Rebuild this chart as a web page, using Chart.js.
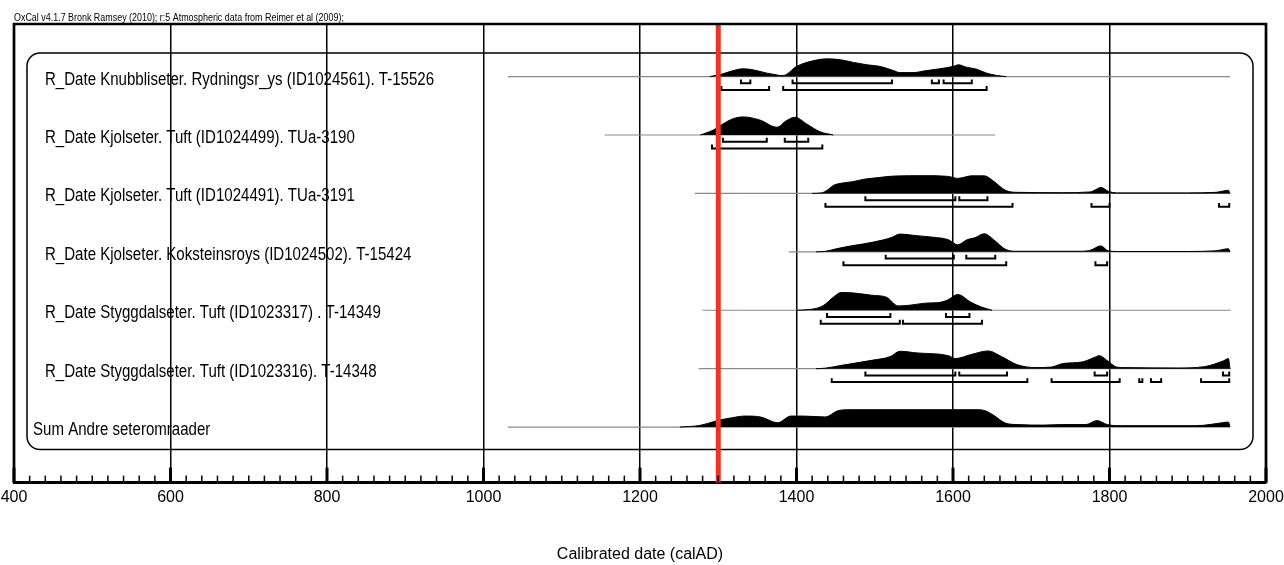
<!DOCTYPE html>
<html>
<head>
<meta charset="utf-8">
<script src="https://cdn.jsdelivr.net/npm/chart.js@4.4.1/dist/chart.umd.min.js"></script>
<style>
  html, body { margin: 0; padding: 0; background: #fff; }
  canvas { display: block; }
</style>
</head>
<body>
<canvas id="oxcal" width="1284" height="565"></canvas>
<script>
// --- texts ---
const headerText = "OxCal v4.1.7 Bronk Ramsey (2010); r:5 Atmospheric data from Reimer et al (2009);";
const axisTitle = "Calibrated date (calAD)";
const xTicks = [400, 600, 800, 1000, 1200, 1400, 1600, 1800, 2000];
const rowLabels = [
  "R_Date Knubbliseter. Rydningsr_ys (ID1024561). T-15526",
  "R_Date Kjolseter. Tuft (ID1024499). TUa-3190",
  "R_Date Kjolseter. Tuft (ID1024491). TUa-3191",
  "R_Date Kjolseter. Koksteinsroys (ID1024502). T-15424",
  "R_Date Styggdalseter. Tuft (ID1023317) . T-14349",
  "R_Date Styggdalseter. Tuft (ID1023316). T-14348",
  "Sum Andre seteromraader"
];
const markerYear = 1300;

// calibration range of each row (thin baseline)
const lineFrom = [1031, 1155, 1270, 1390, 1280, 1275, 1031];
const lineTo   = [1954, 1654, 1954, 1954, 1955, 1955, 1954];

// --- probability curves (relative, peak ~1) ---
const knubbYears = [1289, 1306, 1319, 1332, 1345, 1362, 1375, 1379, 1383, 1400, 1421, 1439, 1456, 1473, 1490, 1507, 1524, 1532, 1549, 1566, 1583, 1600, 1607, 1617, 1630, 1643, 1656, 1668];
const knubbProb  = [0, 0.15, 0.33, 0.43, 0.37, 0.19, 0.09, 0.06, 0.06, 0.56, 0.87, 0.98, 0.93, 0.78, 0.65, 0.56, 0.33, 0.22, 0.22, 0.33, 0.43, 0.56, 0.65, 0.52, 0.41, 0.19, 0.06, 0];

const tuftAYears = [1277, 1294, 1306, 1319, 1332, 1353, 1375, 1387, 1398, 1413, 1430, 1447];
const tuftAProb  = [0, 0.28, 0.61, 0.9, 1.0, 0.83, 0.43, 0.79, 0.98, 0.61, 0.18, 0];

const tuftBYears = [1420, 1432, 1440, 1447, 1457, 1472, 1486, 1506, 1525, 1564, 1594, 1606, 1615, 1623, 1640, 1652, 1667, 1682, 1740, 1775, 1782, 1789, 1799, 1809, 1900, 1936, 1952, 1954];
const tuftBProb  = [0, 0.03, 0.2, 0.44, 0.56, 0.65, 0.78, 0.88, 0.96, 0.98, 0.94, 0.83, 0.9, 0.97, 0.97, 0.67, 0.17, 0.06, 0.04, 0.08, 0.2, 0.33, 0.11, 0.03, 0.03, 0.06, 0.17, 0];

const koksYears = [1425, 1437, 1452, 1470, 1486, 1510, 1522, 1532, 1554, 1574, 1594, 1606, 1618, 1628, 1640, 1652, 1667, 1682, 1760, 1775, 1789, 1798, 1810, 1900, 1936, 1952, 1954];
const koksProb  = [0, 0.03, 0.18, 0.33, 0.44, 0.65, 0.8, 0.98, 0.89, 0.81, 0.67, 0.39, 0.67, 0.78, 1.0, 0.67, 0.14, 0.03, 0.03, 0.08, 0.33, 0.06, 0.02, 0.02, 0.06, 0.17, 0];

const styggAYears = [1400, 1413, 1425, 1435, 1447, 1457, 1471, 1496, 1515, 1530, 1545, 1564, 1584, 1593, 1606, 1623, 1637, 1650];
const styggAProb  = [0, 0.03, 0.1, 0.28, 0.72, 0.98, 0.96, 0.83, 0.72, 0.24, 0.28, 0.39, 0.44, 0.56, 0.87, 0.44, 0.17, 0];

const styggBYears = [1425, 1437, 1457, 1496, 1520, 1532, 1554, 1594, 1603, 1623, 1645, 1662, 1682, 1706, 1726, 1740, 1765, 1780, 1787, 1797, 1809, 1818, 1887, 1921, 1946, 1952, 1954];
const styggBProb  = [0, 0.03, 0.18, 0.46, 0.67, 0.96, 0.87, 0.72, 0.56, 0.78, 0.98, 0.67, 0.22, 0.06, 0.09, 0.28, 0.37, 0.61, 0.72, 0.45, 0.09, 0.06, 0.04, 0.11, 0.44, 0.56, 0];

const sumYears = [1251, 1276, 1300, 1318, 1334, 1354, 1376, 1393, 1408, 1437, 1452, 1466, 1545, 1633, 1642, 1652, 1667, 1682, 1716, 1740, 1770, 1784, 1797, 1814, 1911, 1946, 1952, 1954];
const sumProb  = [0, 0.09, 0.37, 0.52, 0.61, 0.56, 0.24, 0.61, 0.61, 0.56, 0.89, 0.96, 0.96, 0.96, 0.89, 0.65, 0.22, 0.14, 0.11, 0.14, 0.14, 0.36, 0.14, 0.08, 0.08, 0.25, 0.28, 0];

// --- highest posterior density ranges ---
const knubbR68 = [[1329, 1341], [1395, 1522], [1573, 1582], [1588, 1624]];
const knubbR95 = [[1304, 1365], [1383, 1643]];
const tuftAR68 = [[1306, 1362], [1385, 1415]];
const tuftAR95 = [[1292, 1433]];
const tuftBR68 = [[1488, 1603], [1608, 1644]];
const tuftBR95 = [[1437, 1676], [1777, 1800], [1940, 1953]];
const koksR68 = [[1514, 1601], [1617, 1654]];
const koksR95 = [[1460, 1668], [1782, 1797]];
const styggAR68 = [[1439, 1520], [1591, 1621]];
const styggAR95 = [[1431, 1532], [1536, 1637]];
const styggBR68 = [[1488, 1603], [1608, 1669], [1781, 1797], [1945, 1953]];
const styggBR95 = [[1445, 1695], [1726, 1813], [1838, 1842], [1853, 1866], [1917, 1953]];

const curves = [
  [knubbYears, knubbProb], [tuftAYears, tuftAProb], [tuftBYears, tuftBProb],
  [koksYears, koksProb], [styggAYears, styggAProb], [styggBYears, styggBProb],
  [sumYears, sumProb]
];
const ranges68 = [knubbR68, tuftAR68, tuftBR68, koksR68, styggAR68, styggBR68, []];
const ranges95 = [knubbR95, tuftAR95, tuftBR95, koksR95, styggAR95, styggBR95, []];

// --- layout in y units (one row = 1) ---
const Y_MAX = 7.85;
const PEAK = 0.31;
const LVL68 = 0.115, LVL95 = 0.23, HOOK = 0.05;
const baseOf = (i) => 0.9 + i;

function curvePoints(years, prob, i) {
  return years.map((yr, j) => ({ x: yr, y: baseOf(i) - prob[j] * PEAK }));
}

function bracketPoints(list, level, i) {
  const y = baseOf(i) + level;
  const pts = [];
  list.forEach(([a, b]) => {
    pts.push({ x: a, y: y - HOOK }, { x: a, y: y }, { x: b, y: y }, { x: b, y: y - HOOK }, { x: b, y: null });
  });
  return pts;
}

const datasets = [];
// red marker first so it is painted on top
datasets.push({
  data: [{ x: markerYear, y: 0 }, { x: markerYear, y: Y_MAX }],
  borderColor: "#ec3326",
  borderWidth: 5,
  pointRadius: 0,
  clip: false
});
curves.forEach(([years, prob], i) => {
  datasets.push({
    data: curvePoints(years, prob, i),
    borderColor: "#000",
    borderWidth: 1,
    backgroundColor: "#000",
    fill: { value: baseOf(i) },
    cubicInterpolationMode: "monotone",
    pointRadius: 0
  });
  [[ranges68[i], LVL68], [ranges95[i], LVL95]].forEach(([list, lvl]) => {
    if (!list.length) return;
    datasets.push({
      data: bracketPoints(list, lvl, i),
      borderColor: "#000",
      borderWidth: 2,
      borderCapStyle: "square",
      pointRadius: 0,
      spanGaps: false
    });
  });
  datasets.push({
    data: [{ x: lineFrom[i], y: baseOf(i) }, { x: lineTo[i], y: baseOf(i) }],
    borderColor: "#8a8a8a",
    borderWidth: 1.2,
    pointRadius: 0
  });
});

const FONT = "'Liberation Sans', Arial, sans-serif";

// frame, rounded group box, tick marks and labels
const oxcalDecor = {
  id: "oxcalDecor",
  beforeDatasetsDraw(chart) {
    const { ctx, chartArea: a } = chart;
    ctx.save();
    ctx.strokeStyle = "#000";
    ctx.lineWidth = 1.5;
    ctx.beginPath();
    ctx.roundRect(a.left + 13, a.top + 29, a.right - a.left - 26, a.bottom - a.top - 62, 13);
    ctx.stroke();
    ctx.restore();
  },
  afterDatasetsDraw(chart) {
    const { ctx, chartArea: a, scales } = chart;
    const x = scales.x;
    ctx.save();
    ctx.strokeStyle = "#000";
    ctx.lineWidth = 2.7;
    ctx.beginPath();
    ctx.moveTo(a.left, a.bottom);
    ctx.lineTo(a.left, a.top);
    ctx.lineTo(a.right, a.top);
    ctx.lineTo(a.right, a.bottom);
    ctx.stroke();
    for (let v = 400; v <= 2000; v += 20) {
      const px = x.getPixelForValue(v);
      const major = v % 200 === 0;
      ctx.lineWidth = major ? 3 : 1.5;
      ctx.beginPath();
      ctx.moveTo(px, a.bottom);
      ctx.lineTo(px, a.bottom - (major ? 15 : 7));
      ctx.stroke();
    }
    ctx.restore();
  },
  afterDraw(chart) {
    const { ctx, chartArea: a, scales } = chart;
    const y = scales.y;
    ctx.save();
    ctx.fillStyle = "#000";
    ctx.textBaseline = "alphabetic";
    // header line
    ctx.save();
    ctx.font = "10.5px " + FONT;
    ctx.translate(a.left, 21);
    ctx.scale(0.85, 1);
    ctx.fillText(headerText, 0, 0);
    ctx.restore();
    // row labels
    rowLabels.forEach((txt, i) => {
      const last = i === rowLabels.length - 1;
      ctx.save();
      ctx.font = "17.5px " + FONT;
      ctx.translate(a.left + (last ? 19 : 31), y.getPixelForValue(baseOf(i)) + 8);
      ctx.scale(0.86, 1);
      ctx.fillText(txt, 0, 0);
      ctx.restore();
    });
    ctx.restore();
  }
};

new Chart(document.getElementById("oxcal"), {
  type: "line",
  data: { datasets: datasets },
  options: {
    responsive: false,
    animation: false,
    layout: { padding: { left: 14, right: 18, top: 24, bottom: 1 } },
    plugins: { legend: { display: false }, tooltip: { enabled: false } },
    elements: { point: { radius: 0 } },
    scales: {
      x: {
        type: "linear",
        min: 400,
        max: 2000,
        afterBuildTicks: (axis) => { axis.ticks = xTicks.map((v) => ({ value: v })); },
        afterFit: (axis) => { axis.paddingLeft = 0; axis.paddingRight = 0; },
        grid: { color: "#000", lineWidth: 1.5, drawTicks: false },
        border: { color: "#000", width: 3 },
        ticks: { color: "#000", font: { family: FONT, size: 16 }, padding: 5, maxRotation: 0, autoSkip: false, callback: (v) => String(v) },
        title: { display: true, text: axisTitle, color: "#000", font: { family: FONT, size: 16 }, padding: { top: 33, bottom: 0 } }
      },
      y: { type: "linear", reverse: true, min: 0, max: Y_MAX, display: false }
    }
  },
  plugins: [oxcalDecor]
});
</script>
</body>
</html>
